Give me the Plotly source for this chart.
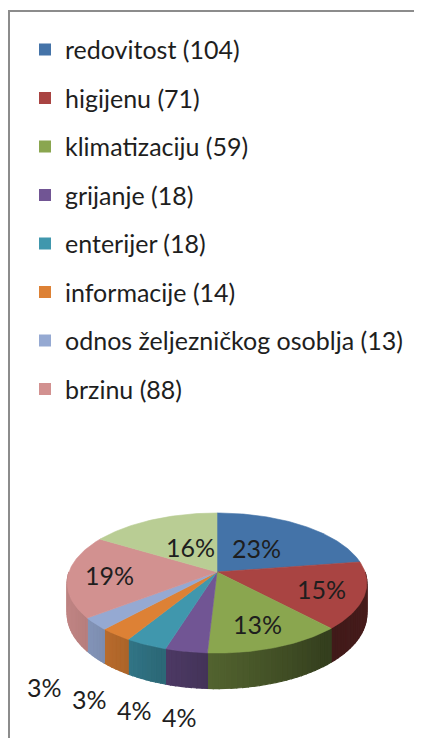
import numpy as np
import plotly.graph_objects as go

# ---- data ----
categories = ["redovitost", "higijenu", "klimatizaciju", "grijanje", "enterijer",
              "informacije", "odnos željezničkog osoblja", "brzinu", "ostalo"]
values = [104, 71, 59, 18, 18, 14, 13, 88, 75]
in_legend = [True, True, True, True, True, True, True, True, False]

# ---- style ----
top_colors = ["#4473a8", "#a94442", "#8aa64f", "#715594", "#4097ad",
              "#dd8135", "#95a9d2", "#d29190", "#b9cd94"]
FONT = "Lato, 'Noto Sans', sans-serif"
TXT = "#1e1e1e"
OFF = 8                      # page body margin
W, H = 422 - OFF, 738 - OFF  # figure size so that it fits the window
CX, CY = 217.0, 572.0        # pie centre (page px)
RX, RY = 148.0, 68.3         # radii (px)
K = 0.157                    # perspective factor
DEPTH = 30.0                 # pie thickness (px)
MIN_GAP = 45.0               # min horizontal gap between outside labels


def proj(theta_deg, r=1.0, dz=0.0):
    t = np.radians(theta_deg)
    X = r * np.sin(t)
    Z = -r * np.cos(t)
    s = 1.0 / (1.0 - K * Z)
    return CX + RX * X * s, CY + RY * Z * s + dz * s


def hex2rgb(h):
    h = h.lstrip("#")
    return [int(h[i:i + 2], 16) for i in (0, 2, 4)]


def shade(h, f):
    r, g, b = hex2rgb(h)
    return "rgb(%d,%d,%d)" % (r * f, g * f, b * f)


def side_factor(theta):
    return float(np.interp(theta, [90, 140, 183, 200, 215, 230, 255, 270],
                           [0.45, 0.38, 0.60, 0.70, 0.80, 0.87, 0.92, 0.90]))


total = float(sum(values))
fracs = [v / total for v in values]
starts = np.concatenate([[0.0], np.cumsum(fracs)[:-1]]) * 360.0
ends = np.cumsum(fracs) * 360.0
pcts = [int(round(f * 100)) for f in fracs]

fig = go.Figure()

# legend-only entries
for i, (c, v) in enumerate(zip(categories, values)):
    if not in_legend[i]:
        continue
    fig.add_trace(go.Scatter(
        x=[None], y=[None], mode="markers", name=f"{c} ({v})",
        marker=dict(symbol="square", size=12, color=top_colors[i]),
        legendgroup=f"g{i}", showlegend=True, hoverinfo="skip"))

# side walls (front half only)
for i in range(len(values)):
    a1, a2 = max(starts[i], 90.0), min(ends[i], 270.0)
    if a2 <= a1:
        continue
    n = max(1, int(np.ceil((a2 - a1) / 2.0)))
    edges = np.linspace(a1, a2, n + 1)
    for j in range(n):
        th = np.linspace(edges[j], edges[j + 1], 4)
        xt, yt = proj(th)
        xb, yb = proj(th[::-1], dz=DEPTH)
        col = shade(top_colors[i], side_factor((edges[j] + edges[j + 1]) / 2))
        fig.add_trace(go.Scatter(
            x=np.concatenate([xt, xb, xt[:1]]), y=np.concatenate([yt, yb, yt[:1]]),
            mode="lines", fill="toself", fillcolor=col,
            line=dict(color=col, width=1.2), showlegend=False,
            legendgroup=f"g{i}", hoverinfo="skip"))

# top faces
for i in range(len(values)):
    th = np.linspace(starts[i], ends[i], max(3, int((ends[i] - starts[i]) / 1.0) + 2))
    xa, ya = proj(th)
    fig.add_trace(go.Scatter(
        x=np.concatenate([[CX], xa, [CX]]), y=np.concatenate([[CY], ya, [CY]]),
        mode="lines", fill="toself", fillcolor=top_colors[i],
        line=dict(color=top_colors[i], width=0.6), showlegend=False,
        legendgroup=f"g{i}", name=categories[i], hoverinfo="skip"))

# percentage labels
inside, outside = [], []
for i in range(len(values)):
    mid = (starts[i] + ends[i]) / 2.0
    t = np.radians(mid)
    zu = -np.cos(t)
    if pcts[i] >= 10:
        r = 0.72 + 0.38 * min(zu, 0.0)
        lx, ly = proj(mid, r=r)
        if zu < 0:
            ly -= 3
        inside.append([float(lx), float(ly), i])
    else:
        lx = CX + RX * 1.48 * np.sin(t)
        ly = CY - RY * 1.45 * np.cos(t) + 1.6 * DEPTH
        outside.append([float(lx), float(ly), i])

# spread outside labels horizontally so they do not collide
outside.sort(key=lambda p: p[0])
for _ in range(200):
    for a, b in zip(outside[:-1], outside[1:]):
        gap = b[0] - a[0]
        if gap < MIN_GAP:
            d = (MIN_GAP - gap) / 2.0
            a[0] -= d
            b[0] += d

annotations = []
for lx, ly, i in inside + outside:
    annotations.append(dict(x=lx, y=ly, xref="x", yref="y",
                            text=f"{pcts[i]}%", showarrow=False,
                            font=dict(family=FONT, size=25, color=TXT)))

shapes = [
    dict(type="line", xref="x", yref="y", x0=8, x1=430, y0=11, y1=11,
         line=dict(color="#8c8c8c", width=2)),
    dict(type="line", xref="x", yref="y", x0=9, x1=9, y0=10, y1=750,
         line=dict(color="#8c8c8c", width=2)),
]

fig.update_layout(
    width=W, height=H, margin=dict(l=0, r=0, t=0, b=0),
    paper_bgcolor="white", plot_bgcolor="white",
    xaxis=dict(range=[OFF, OFF + W], visible=False, fixedrange=True),
    yaxis=dict(range=[OFF + H, OFF], visible=False, fixedrange=True),
    showlegend=True,
    legend=dict(x=17 / W, y=1 - 18.7 / H, xanchor="left", yanchor="top",
                traceorder="grouped", tracegroupgap=13,
                font=dict(family=FONT, size=25, color=TXT),
                bgcolor="rgba(0,0,0,0)", itemsizing="trace"),
    annotations=annotations, shapes=shapes,
)

fig.write_html("out.html")
